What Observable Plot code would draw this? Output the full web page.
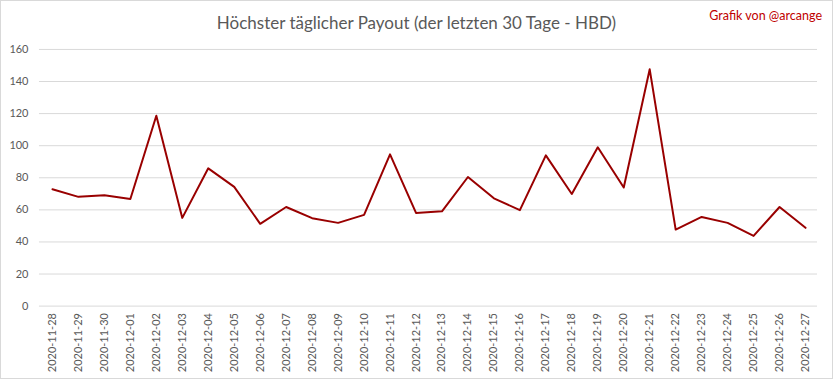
<!DOCTYPE html>
<html><head><meta charset="utf-8">
<script src="https://cdn.jsdelivr.net/npm/d3@7"></script>
<script src="https://cdn.jsdelivr.net/npm/@observablehq/plot@0.6"></script>
<style>
body{margin:0;background:#fff}
#wrap{position:relative;width:833px;height:379px;box-sizing:border-box;border:1px solid #d9d9d9;overflow:hidden;font-family:Lato,sans-serif}
#chart{position:absolute;left:-1px;top:-1px}
#title{position:absolute;left:0;right:0;top:11px;text-align:center;font-size:17px;color:#595959;z-index:2;white-space:nowrap}
#credit{position:absolute;right:10px;top:7px;font-size:12.5px;color:#c00000;z-index:2}
</style></head>
<body>
<div id="wrap">
<div id="chart"></div>
<div id="title">Höchster täglicher Payout (der letzten 30 Tage - HBD)</div>
<div id="credit">Grafik von @arcange</div>
</div>
<script>
const dates = ["2020-11-28","2020-11-29","2020-11-30","2020-12-01","2020-12-02","2020-12-03","2020-12-04","2020-12-05","2020-12-06","2020-12-07","2020-12-08","2020-12-09","2020-12-10","2020-12-11","2020-12-12","2020-12-13","2020-12-14","2020-12-15","2020-12-16","2020-12-17","2020-12-18","2020-12-19","2020-12-20","2020-12-21","2020-12-22","2020-12-23","2020-12-24","2020-12-25","2020-12-26","2020-12-27"];
const payout = [72.9,68.1,69.1,66.8,118.7,55.0,85.9,74.3,51.3,61.8,54.8,51.9,56.9,94.6,58.1,59.1,80.5,67.2,59.8,94.0,69.9,99.0,73.9,147.6,47.7,55.6,51.9,43.8,61.8,48.8];
const yTicks = [0,20,40,60,80,100,120,140,160];

const rows = dates.map((d,i)=>({date:d, value:payout[i]}));

const chart = Plot.plot({
  width: 833, height: 379,
  marginTop: 49, marginBottom: 73, marginLeft: 39, marginRight: 15,
  x: {type: "point", domain: dates, padding: 0.25, label: null},
  y: {domain: [0,160], label: null},
  style: {fontFamily: "Lato, sans-serif", fontSize: "11px", color: "#595959", background: "transparent"},
  marks: [
    Plot.ruleY(yTicks, {stroke: "#d9d9d9", strokeWidth: 1}),
    Plot.axisY({ticks: yTicks, tickSize: 0, tickPadding: 11, fontSize: 11}),
    Plot.axisX({tickSize: 0, tickPadding: 7, tickRotate: -90, fontSize: 11}),
    Plot.line(rows, {x: "date", y: "value", stroke: "#990000", strokeWidth: 2})
  ]
});
document.getElementById("chart").appendChild(chart);
</script>
</body></html>
